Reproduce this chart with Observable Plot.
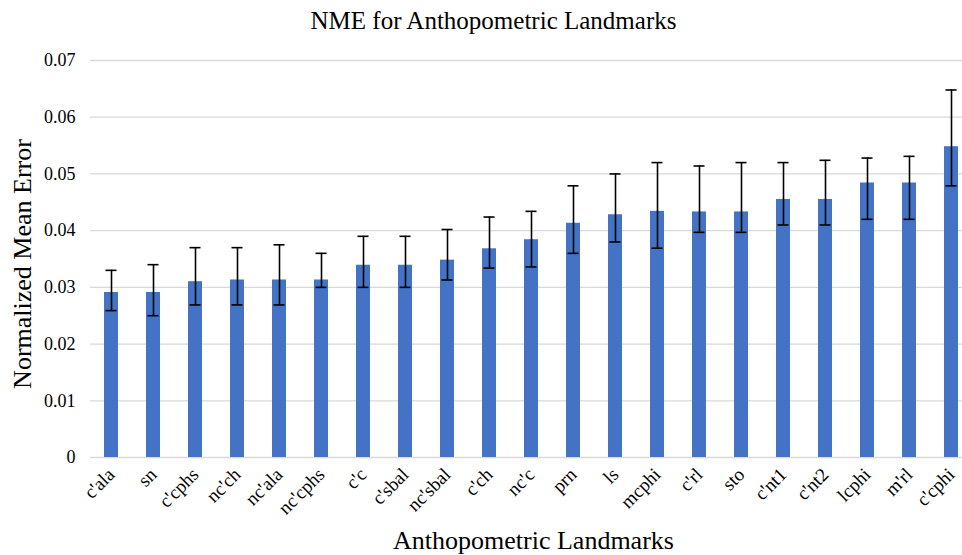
<!DOCTYPE html>
<html>
<head>
<meta charset="utf-8">
<script src="https://cdn.jsdelivr.net/npm/d3@7"></script>
<script src="https://cdn.jsdelivr.net/npm/@observablehq/plot@0.6"></script>
<style>
  html, body { margin: 0; padding: 0; background: #fff; overflow: hidden; }
</style>
</head>
<body>
<div id="chart"></div>
<script>
const chartTitle = "NME for Anthopometric Landmarks";
const xTitle = "Anthopometric Landmarks";
const yTitle = "Normalized Mean Error";

const landmarks = ["c'ala","sn","c'cphs","nc'ch","nc'ala","nc'cphs","c'c","c'sbal","nc'sbal","c'ch","nc'c","prn","ls","mcphi","c'rl","sto","c'nt1","c'nt2","lcphi","m'rl","c'cphi"];
const nme     = [0.0291,0.0291,0.0310,0.0313,0.0313,0.0313,0.0339,0.0339,0.0348,0.0368,0.0384,0.0413,0.0428,0.0434,0.0433,0.0433,0.0455,0.0455,0.0484,0.0484,0.0548];
const errHigh = [0.0330,0.0340,0.0370,0.0370,0.0375,0.0360,0.0390,0.0390,0.0402,0.0424,0.0434,0.0479,0.0500,0.0520,0.0514,0.0520,0.0520,0.0524,0.0528,0.0531,0.0648];
const errLow  = [0.0259,0.0250,0.0269,0.0269,0.0269,0.0300,0.0300,0.0300,0.0313,0.0334,0.0336,0.0360,0.0380,0.0369,0.0397,0.0397,0.0410,0.0410,0.0420,0.0420,0.0479];

const yTicks = [0, 0.01, 0.02, 0.03, 0.04, 0.05, 0.06, 0.07];
const yTickLabels = ["0", "0.01", "0.02", "0.03", "0.04", "0.05", "0.06", "0.07"];

const data = landmarks.map((name, i) => ({name, v: nme[i], hi: errHigh[i], lo: errLow[i]}));

const chart = Plot.plot({
  width: 962,
  height: 555,
  marginTop: 60,
  marginBottom: 98,
  marginLeft: 90,
  marginRight: 0,
  style: {fontFamily: "'Liberation Serif', 'Times New Roman', serif", fontSize: "18px", color: "#000", background: "#fff"},
  x: {domain: landmarks, range: [90, 972], paddingInner: 0.667, paddingOuter: 0.333},
  y: {domain: [0, 0.07]},
  marks: [
    Plot.gridY(yTicks, {stroke: "#d9d9d9", strokeOpacity: 1, strokeWidth: 1.3}),
    Plot.barY(data, {x: "name", y: "v", fill: "#4472c4"}),
    Plot.ruleX(data, {x: "name", y1: "lo", y2: "hi", stroke: "#000", strokeWidth: 1.6}),
    Plot.tickY(data, {x: "name", y: "hi", stroke: "#000", strokeWidth: 1.6, insetLeft: 1.5, insetRight: 1.5}),
    Plot.tickY(data, {x: "name", y: "lo", stroke: "#000", strokeWidth: 1.6, insetLeft: 1.5, insetRight: 1.5}),
    Plot.axisY({ticks: yTicks, tickFormat: (d) => yTickLabels[yTicks.indexOf(d)], tickSize: 0, tickPadding: 15, fontSize: 18, label: null}),
    Plot.axisX({tickSize: 0, tickRotate: -45, tickPadding: 14, fontSize: 19, label: null}),
    Plot.text([chartTitle], {frameAnchor: "top", text: d => d, dx: -33, dy: -40, fontSize: 25, lineAnchor: "middle"}),
    Plot.text([xTitle], {frameAnchor: "bottom", text: d => d, dx: 7, dy: 83, fontSize: 26, lineAnchor: "middle"}),
    Plot.text([yTitle], {frameAnchor: "left", text: d => d, dx: -68, dy: 5, rotate: -90, fontSize: 26, lineAnchor: "middle", textAnchor: "middle"})
  ]
});
document.getElementById("chart").appendChild(chart);
</script>
</body>
</html>
